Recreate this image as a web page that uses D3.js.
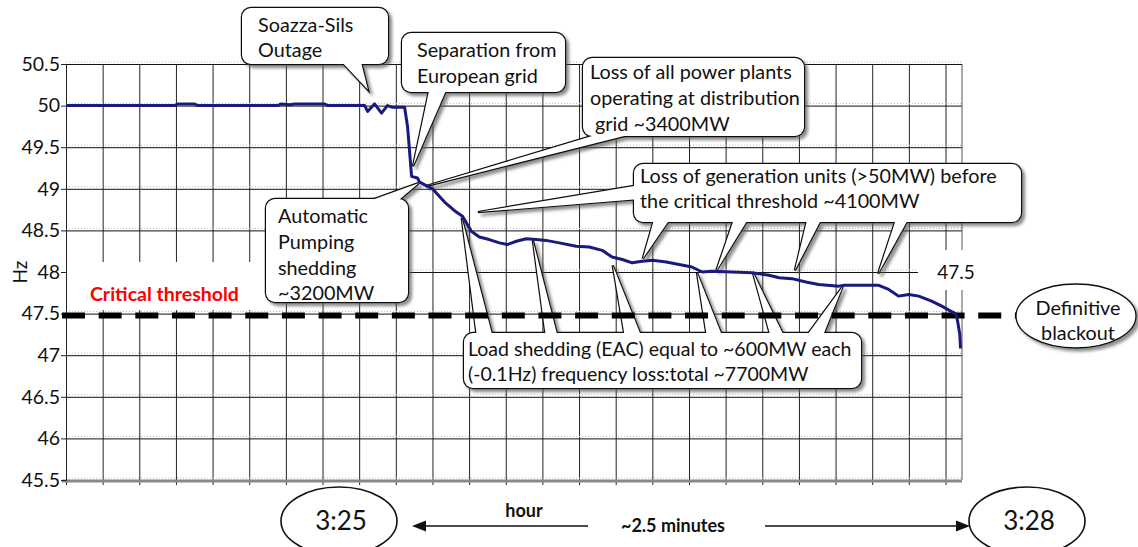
<!DOCTYPE html>
<html><head><meta charset="utf-8">
<script src="https://cdn.jsdelivr.net/npm/d3@7"></script>
<style>
body{margin:0;background:#fff}
svg{display:block}
text{font-family:Lato,"Open Sans",sans-serif;fill:#111}
</style>
</head><body>
<svg id="chart" width="1138" height="547"></svg>
<script>
// ---------------- data ----------------
const timeSteps = [0,2.97,3.05,3.5,3.6,5.78,5.86,6.1,6.24,7.06,7.14,8.15,8.23,8.42,8.61,8.77,8.91,9.24,9.32,9.43,9.59,9.65,10.0,10.33,10.65,10.82,11.06,11.28,11.55,11.83,12.04,12.29,12.56,12.83,13.1,13.46,13.92,14.28,14.63,14.9,15.18,15.45,15.72,16.0,16.38,16.73,17.08,17.36,17.63,18.17,18.72,19.18,19.46,19.81,20.19,20.54,21.09,21.23,22.18,22.45,22.72,23.0,23.27,23.62,23.9,24.14,24.28,24.33,24.39,24.41];
const frequencyHz = [50.00,50.00,50.02,50.02,50.00,50.00,50.02,50.01,50.02,50.02,50.00,50.00,49.93,50.02,49.91,50.00,49.98,49.98,49.75,49.15,49.13,49.08,49.00,48.84,48.72,48.67,48.49,48.42,48.39,48.35,48.33,48.37,48.40,48.39,48.38,48.35,48.31,48.30,48.26,48.18,48.15,48.11,48.13,48.14,48.12,48.09,48.06,48.00,48.01,48.00,47.99,47.96,47.93,47.92,47.88,47.85,47.83,47.84,47.84,47.79,47.71,47.73,47.71,47.65,47.59,47.53,47.50,47.41,47.25,47.08];
const yTickValues = [45.5,46,46.5,47,47.5,48,48.5,49,49.5,50,50.5];
const xGridSteps = d3.range(0, 25);
const thresholdHz = 47.5;
const axisTitle = "Hz";
const thresholdLabel = "Critical threshold";
const thresholdValueLabel = "47.5";
const startTime = "3:25";
const endTime = "3:28";
const hourLabel = "hour";
const durationLabel = "~2.5 minutes";
const blackoutLines = ["Definitive", "blackout"];

// annotation texts and the data points their pointers reach
const soazzaLines = ["Soazza-Sils", "Outage"];
const soazzaTips = [[8.24, 50.19]];
const separationLines = ["Separation from", "European grid"];
const separationTips = [[9.47, 49.27]];
const distributionLines = ["Loss of all power plants", "operating at distribution", " grid ~3400MW"];
const distributionTips = [[9.8, 49.03]];
const pumpingLines = ["Automatic", "Pumping", "shedding", "~3200MW"];
const pumpingTips = [[9.63, 49.07]];
const generationLines = ["Loss of generation units (>50MW) before", "the critical threshold ~4100MW"];
const generationTips = [[11.24, 48.72], [15.74, 48.16], [17.74, 48.01], [19.89, 48.02], [22.16, 47.98]];
const loadLines = ["Load shedding (EAC) equal to ~600MW each", "(-0.1Hz) frequency loss:total ~7700MW"];
const loadTips = [[10.8, 48.65], [12.74, 48.38], [14.92, 48.08], [17.22, 47.99], [18.74, 48.0], [21.2, 47.83]];

// ---------------- layout ----------------
const L = 66, R = 962, T = 64, B = 480;
const FS = 19.8;
const svg = d3.select("#chart");
const x = d3.scaleLinear().domain([0, 24.45]).range([L, R]);
const y = d3.scaleLinear().domain([45.5, 50.5]).range([B, T]);

const defs = svg.append("defs");
const f = defs.append("filter").attr("id", "shadow").attr("x", "-10%").attr("y", "-10%").attr("width", "130%").attr("height", "140%");
f.append("feDropShadow").attr("dx", 3).attr("dy", 3).attr("stdDeviation", 1.6).attr("flood-color", "#555").attr("flood-opacity", 0.65);

// grid
const grid = svg.append("g");
grid.append("g").attr("transform", `translate(${L},0)`)
  .call(d3.axisLeft(y).tickValues(yTickValues).tickSize(-(R - L)).tickFormat(""))
  .call(g => g.select(".domain").remove())
  .call(g => g.selectAll("line").attr("stroke", "#111").attr("stroke-width", 1));
grid.append("g").attr("transform", `translate(0,${B + 5})`)
  .call(d3.axisBottom(x).tickValues(xGridSteps).tickSize(-(B - T + 5)).tickFormat(""))
  .call(g => g.select(".domain").remove())
  .call(g => g.selectAll("line").attr("stroke", "#222").attr("stroke-width", 1));
// dotted overlay
grid.append("g").selectAll("line").data(yTickValues).join("line")
  .attr("x1", L).attr("x2", R).attr("y1", d => y(d) - 2).attr("y2", d => y(d) - 2)
  .attr("stroke", "#bbb").attr("stroke-dasharray", "1 2");
grid.append("line").attr("x1", R).attr("x2", R).attr("y1", T).attr("y2", B).attr("stroke", "#555");
grid.append("line").attr("x1", L - 4).attr("x2", R).attr("y1", B + 1).attr("y2", B + 1).attr("stroke", "#888").attr("stroke-width", 3);

// y axis labels
svg.append("g").attr("transform", `translate(${L},0)`)
  .call(d3.axisLeft(y).tickValues(yTickValues).tickSize(5).tickPadding(1).tickFormat(d3.format("")))
  .call(g => g.select(".domain").attr("stroke", "#222"))
  .call(g => g.selectAll("line").attr("stroke", "#222"))
  .call(g => g.selectAll("text").attr("font-size", 19.5).attr("font-family", "Lato,sans-serif").attr("fill", "#111"));
svg.append("text").attr("transform", `translate(27,${y(48)}) rotate(-90)`)
  .attr("text-anchor", "middle").attr("font-size", 19).text(axisTitle);

// white label backgrounds
svg.append("rect").attr("x", L + 1).attr("y", y(48) - 10).attr("width", 200).attr("height", 48).attr("fill", "#fff");
svg.append("text").attr("x", 90).attr("y", 301).attr("font-size", 19.5).attr("font-weight", "bold")
  .style("fill", "#f00").text(thresholdLabel);
svg.append("rect").attr("x", 918).attr("y", 250).attr("width", 72).attr("height", 40).attr("fill", "#fff");
svg.append("text").attr("x", 956).attr("y", 279).attr("text-anchor", "middle").attr("font-size", 19).text(thresholdValueLabel);

// ---------------- callouts ----------------
function callout(box, bases, tips, lines, tx, baselines, fs) {
  const g = svg.append("g");
  const polys = tips.map((tp, i) => {
    const b = bases[i];
    return [[b[0], b[1]], [x(tp[0]), y(tp[1])], [b[2], b[3]]];
  });
  const sh = g.append("g").attr("filter", "url(#shadow)");
  sh.append("rect").attr("x", box[0]).attr("y", box[1]).attr("width", box[2]).attr("height", box[3]).attr("rx", 9)
    .attr("fill", "#fff").attr("stroke", "#111").attr("stroke-width", 2.4);
  sh.selectAll("path").data(polys).join("path").attr("d", d => "M" + d.join("L") + "Z")
    .attr("fill", "#fff").attr("stroke", "#111").attr("stroke-width", 2.4).attr("stroke-linejoin", "miter");
  g.append("rect").attr("x", box[0]).attr("y", box[1]).attr("width", box[2]).attr("height", box[3]).attr("rx", 9).attr("fill", "#fff");
  g.append("g").selectAll("path").data(polys).join("path").attr("d", d => "M" + d.join("L") + "Z").attr("fill", "#fff");
  g.append("g").selectAll("text").data(lines).join("text")
    .attr("x", tx).attr("y", (d, i) => baselines[i]).attr("font-size", fs).attr("xml:space", "preserve")
    .style("white-space", "pre").text(d => d);
}

callout([242, 8, 146, 56], [[338, 58, 360, 58]], soazzaTips, soazzaLines, 258, [32, 57], FS);
callout([402, 33, 163, 59], [[430, 86, 448, 86]], separationTips, separationLines, 417, [57, 83], FS);
callout([583, 58, 221, 78], [[612, 130, 648, 130]], distributionTips, distributionLines, 590, [79, 105, 131], FS);
callout([266, 199, 142, 103], [[358, 205, 393, 205]], pumpingTips, pumpingLines, 278, [223, 249, 275, 300], FS);
callout([634, 164, 387, 58], [[640, 185, 640, 199], [655, 216, 672, 216], [735, 216, 750, 216], [808, 216, 823, 216], [897, 216, 910, 216]],
  generationTips, generationLines, 640, [183, 208], FS);
callout([464, 333, 397, 55], [[477, 338, 493, 338], [546, 338, 558, 338], [625, 338, 642, 338], [707, 338, 723, 338], [771, 338, 785, 338], [805, 338, 822, 338]],
  loadTips, loadLines, 468, [356, 381], 19.5);

// threshold line
svg.append("line").attr("x1", 62).attr("x2", 1016).attr("y1", y(thresholdHz) + 2).attr("y2", y(thresholdHz) + 2)
  .attr("stroke", "#000").attr("stroke-width", 6).attr("stroke-dasharray", "23 13.65");

// frequency trace
const pts = timeSteps.map((t, i) => [t, frequencyHz[i]]);
svg.append("path").datum(pts)
  .attr("d", d3.line().x(d => x(d[0])).y(d => y(d[1])))
  .attr("fill", "none").attr("stroke", "#1a1a7e").attr("stroke-width", 3).attr("stroke-linejoin", "round");

// definitive blackout ellipse
const eg = svg.append("g");
eg.append("ellipse").attr("cx", 1076).attr("cy", 316).attr("rx", 60).attr("ry", 32)
  .attr("fill", "#fff").attr("stroke", "#111").attr("stroke-width", 1.3).attr("filter", "url(#shadow)");
eg.selectAll("text").data(blackoutLines).join("text").attr("x", 1078).attr("y", (d, i) => 315 + i * 25)
  .attr("text-anchor", "middle").attr("font-size", FS).text(d => d);

// bottom time annotation
[[339, startTime], [1027, endTime]].forEach(([cx, lbl]) => {
  svg.append("ellipse").attr("cx", cx).attr("cy", 521).attr("rx", 58).attr("ry", 34)
    .attr("fill", "none").attr("stroke", "#111").attr("stroke-width", 1.6);
  svg.append("text").attr("x", cx + 2).attr("y", 530).attr("text-anchor", "middle").attr("font-size", 26).text(lbl);
});
svg.append("line").attr("x1", 420).attr("x2", 588).attr("y1", 526).attr("y2", 526).attr("stroke", "#111").attr("stroke-width", 1.4);
svg.append("path").attr("d", "M412,526L426,520.5L426,531.5Z").attr("fill", "#111");
svg.append("line").attr("x1", 765).attr("x2", 962).attr("y1", 526).attr("y2", 526).attr("stroke", "#111").attr("stroke-width", 1.4);
svg.append("path").attr("d", "M970,526L956,520.5L956,531.5Z").attr("fill", "#111");
svg.append("text").attr("x", 524).attr("y", 517).attr("text-anchor", "middle").attr("font-size", 18).attr("font-weight", "bold").text(hourLabel);
svg.append("text").attr("x", 673).attr("y", 532).attr("text-anchor", "middle").attr("font-size", 18).attr("font-weight", "bold").text(durationLabel);
</script>
</body></html>
